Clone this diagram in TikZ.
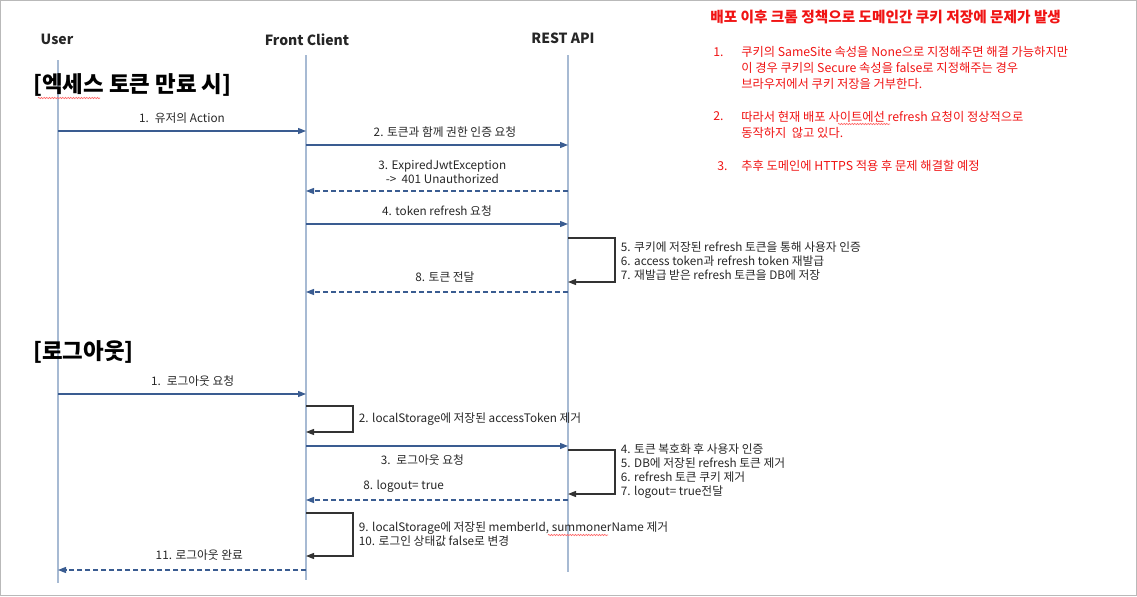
\documentclass[tikz,border=0pt]{standalone}
\usepackage{fontspec}
\setmainfont{Noto Sans CJK KR}
\usetikzlibrary{arrows.meta, positioning, calc, decorations.pathmorphing}

\definecolor{lifeblue}{HTML}{A7BAD3}
\definecolor{msgblue}{HTML}{3A5C91}
\definecolor{notered}{HTML}{F01414}

\begin{document}
\begin{tikzpicture}[
			x=0.75pt, y=-0.75pt,
			actor/.style={font=\fontsize{10.5}{12}\selectfont\bfseries, text=black!85},
			lifeline/.style={draw=lifeblue, line width=1pt},
			msg/.style={-{Triangle[length=6pt,width=4.5pt]}, draw=msgblue, line width=0.9pt},
			reply/.style={msg, dash pattern=on 3.5pt off 2.5pt},
			selfloop/.style={-{Triangle[length=6pt,width=4.5pt]}, draw=black!80, line width=0.9pt},
			msglabel/.style={font=\fontsize{8.8}{10.5}\selectfont, text=black!85, inner sep=1pt, align=center},
			note/.style={msglabel, align=left},
			section/.style={font=\fontsize{16.8}{19}\selectfont\bfseries, anchor=west, inner sep=0pt},
			redtext/.style={font=\fontsize{9.2}{12}\selectfont, text=notered, align=left, anchor=west, inner sep=0pt},
			squiggle/.style={draw=red!60, line width=0.5pt, decorate, decoration={snake, segment length=2pt, amplitude=0.5pt}}
			]
			
			\useasboundingbox (0,0) rectangle (1137,596);
			\draw[gray!55, line width=1pt] (0.5,0.5) rectangle (1136.5,595.5);
			
			% Participants
			\node[actor] (user) at (57,39) {User};
			\node[actor] (front) at (307,40) {Front Client};
			\node[actor] (api) at (563,38) {REST API};
			
			\coordinate (uTop) at (58,60);   \coordinate (uEnd) at (58,583);
			\coordinate (fTop) at (306,55);  \coordinate (fEnd) at (306,580);
			\coordinate (aTop) at (568,55);  \coordinate (aEnd) at (568,572);
			
			\draw[lifeline] (uTop) -- (uEnd);
			\draw[lifeline] (fTop) -- (fEnd);
			\draw[lifeline] (aTop) -- (aEnd);
			
			% Message levels
			\foreach \n/\y in {a1/131, a2/145, a3/191, a4/224, a5/238, a6/282, a8/292,
				b1/394, b2/406, b2e/432, b3/446, b4/450, b4e/494, b8/500, b9/513, b9e/556, b11/570}
				\coordinate (\n) at (0,\y);
			
			% Section: token expiry
			\node[section] (secexp) at (33,85) {[엑세스 토큰 만료 시]};
			\draw[squiggle] (38,98) -- (100,98);
			
			\draw[msg] (uTop |- a1) -- node[msglabel, above=4pt] {1.\enspace 유저의 Action} (fTop |- a1);
			\draw[msg] (fTop |- a2) -- node[msglabel, above=4pt, xshift=6pt] {2. 토큰과 함께 권한 인증 요청} (aTop |- a2);
			\draw[reply] (aTop |- a3) -- node[msglabel, above=4pt, xshift=4pt] {3. ExpiredJwtException\\-> \ 401 Unauthorized} (fTop |- a3);
			\draw[msg] (fTop |- a4) -- node[msglabel, above=4pt] {4. token refresh 요청} (aTop |- a4);
			\draw[selfloop] (aTop |- a5) -- ++(47,0) |- node[note, pos=0.25, right=3pt, yshift=-1pt]
				{5. 쿠키에 저장된 refresh 토큰을 통해 사용자 인증\\6. access token과 refresh token 재발급\\7. 재발급 받은 refresh 토큰을 DB에 저장} (aTop |- a6);
			\draw[reply] (aTop |- a8) -- node[msglabel, above=6pt, xshift=6pt] {8. 토큰 전달} (fTop |- a8);
			
			% Section: logout
			\node[section] (seclogout) at (33,352) {[로그아웃]};
			
			\draw[msg] (uTop |- b1) -- node[msglabel, above=4pt, xshift=8pt] {1.\enspace 로그아웃 요청} (fTop |- b1);
			\draw[selfloop] (fTop |- b2) -- ++(47,0) |- node[note, pos=0.25, right=3pt]
				{2. localStorage에 저장된 accessToken 제거} (fTop |- b2e);
			\draw[msg] (fTop |- b3) -- node[msglabel, below=5pt, xshift=-11pt] {3.\enspace 로그아웃 요청} (aTop |- b3);
			\draw[selfloop] (aTop |- b4) -- ++(47,0) |- node[note, pos=0.25, right=3pt, yshift=1pt]
				{4. 토큰 복호화 후 사용자 인증\\5. DB에 저장된 refresh 토큰 제거\\6. refresh 토큰 쿠키 제거\\7. logout= true전달} (aTop |- b4e);
			\draw[reply] (aTop |- b8) -- node[msglabel, above=4pt, xshift=-25pt] {8. logout= true} (fTop |- b8);
			\draw[selfloop] (fTop |- b9) -- ++(47,0) |- node[note, pos=0.25, right=3pt]
				{9. localStorage에 저장된 memberId, summonerName 제거\\10. 로그인 상태값 false로 변경} (fTop |- b9e);
			\draw[squiggle] (548,535) -- (608,535);
			\draw[reply] (fTop |- b11) -- node[msglabel, above=6pt, xshift=13pt] {11. 로그아웃 완료} (uTop |- b11);
			
			% Deployment note
			\node[redtext, font=\fontsize{11}{13}\selectfont\bfseries] (ntitle) at (710,17) {배포 이후 크롬 정책으로 도메인간 쿠키 저장에 문제가 발생};
			\node[redtext] (n1) at (713,52) {1.};
			\node[redtext] (n1txt) at (741,68) {쿠키의 SameSite 속성을 None으로 지정해주면 해결 가능하지만\\이 경우 쿠키의 Secure 속성을 false로 지정해주는 경우\\브라우저에서 쿠키 저장을 거부한다.};
			\node[redtext] (n2) at (713,116) {2.};
			\node[redtext] (n2txt) at (741,124.5) {따라서 현재 배포 사이트에선 refresh 요청이 정상적으로\\동작하지\ \ 않고 있다.};
			\draw[squiggle] (838,124) -- (890,124);
			\node[redtext] (n3) at (717,166) {3.};
			\node[redtext] (n3txt) at (741,166) {추후 도메인에 HTTPS 적용 후 문제 해결할 예정};
			
		\end{tikzpicture}
\end{document}
